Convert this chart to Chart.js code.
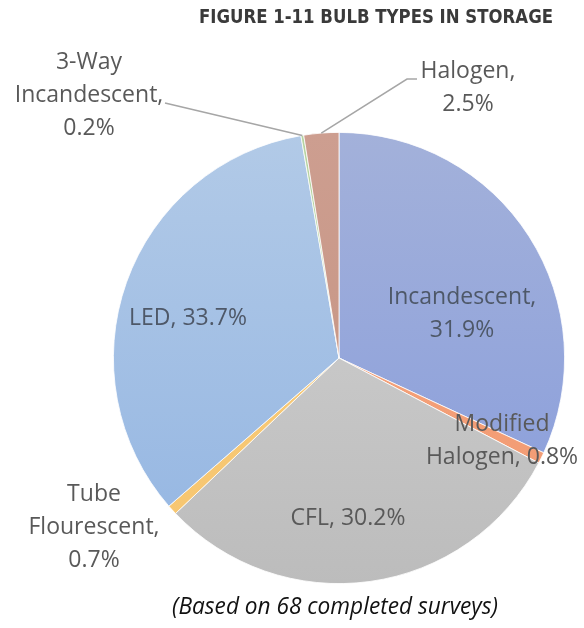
<!DOCTYPE html>
<html>
<head>
<meta charset="utf-8">
<script src="https://cdn.jsdelivr.net/npm/chart.js@4"></script>
<style>
  html, body { margin: 0; padding: 0; background: #fff; }
  #wrap { width: 584px; height: 628px; position: relative; }
</style>
</head>
<body>
<div id="wrap"><canvas id="pie"></canvas></div>
<script>
// data
const categories = ['Incandescent', 'Modified Halogen', 'CFL', 'Tube Flourescent', 'LED', '3-Way Incandescent', 'Halogen'];
const shares = [31.9, 0.8, 30.2, 0.7, 33.7, 0.2, 2.5];
const labelLines = [
  ['Incandescent,', '31.9%'],
  ['Modified', 'Halogen, 0.8%'],
  ['CFL, 30.2%'],
  ['Tube', 'Flourescent,', '0.7%'],
  ['LED, 33.7%'],
  ['3-Way', 'Incandescent,', '0.2%'],
  ['Halogen,', '2.5%']
];
const titleText = 'FIGURE 1-11 BULB TYPES IN STORAGE';
const noteText = '(Based on 68 completed surveys)';

// slice fills: top colour, bottom colour (Excel-style gradient)
const fillTop = ['#a3b1da', '#f4a57f', '#d3d3d3', '#f8cd7e', '#b2cae7', '#b7d4a2', '#cd9e90'];
const fillBottom = ['#879cdc', '#f29a72', '#bcbcbc', '#f6c56f', '#93b5e2', '#a9cb92', '#c4927f'];

// label placement relative to pie centre (px), leader line
const labelPos = [
  { dx: 123, dy: -44, color: '#4e5868' },
  { dx: 163, dy: 83, color: '#595959' },
  { dx: 9, dy: 160, color: '#595959' },
  { dx: -245, dy: 169, color: '#595959' },
  { dx: -151, dy: -40, color: '#4e5868' },
  { dx: -250, dy: -263, color: '#595959', leader: [[-174, -255]] },
  { dx: 129, dy: -270, color: '#595959', leader: [[68, -279], [78, -279]] }
];

const sliceFill = (ctx) => {
  const chart = ctx.chart;
  const area = chart.chartArea;
  if (!area) return fillTop[ctx.dataIndex];
  const g = chart.ctx.createLinearGradient(0, area.top, 0, area.bottom);
  g.addColorStop(0, fillTop[ctx.dataIndex]);
  g.addColorStop(1, fillBottom[ctx.dataIndex]);
  return g;
};

const labelPlugin = {
  id: 'sliceLabels',
  afterDatasetsDraw(chart) {
    const c = chart.ctx;
    const arcs = chart.getDatasetMeta(0).data;
    c.save();
    arcs.forEach((arc, i) => {
      const cx = arc.x, cy = arc.y;
      const p = labelPos[i];
      if (p.leader) {
        const mid = (arc.startAngle + arc.endAngle) / 2;
        c.beginPath();
        c.moveTo(cx + Math.cos(mid) * arc.outerRadius, cy + Math.sin(mid) * arc.outerRadius);
        p.leader.forEach(pt => c.lineTo(cx + pt[0], cy + pt[1]));
        c.strokeStyle = '#a6a6a6';
        c.lineWidth = 1.5;
        c.stroke();
      }
      const lines = labelLines[i];
      const lh = 33;
      c.font = '23px "Open Sans"';
      c.fillStyle = p.color;
      c.textAlign = 'center';
      c.textBaseline = 'middle';
      const y0 = cy + p.dy - (lines.length - 1) * lh / 2;
      lines.forEach((t, k) => c.fillText(t, cx + p.dx, y0 + k * lh));
    });
    c.restore();
  },
  afterDraw(chart) {
    const c = chart.ctx;
    c.save();
    c.fillStyle = '#3a3a3a';
    c.font = 'bold 20px "DejaVu Sans Condensed", "DejaVu Sans"';
    c.textAlign = 'right';
    c.textBaseline = 'middle';
    c.fillText(titleText, 553, 18, 354);
    c.fillStyle = '#111111';
    c.font = 'italic 23px "Open Sans"';
    c.textAlign = 'center';
    c.fillText(noteText, 335, 607, 326);
    c.restore();
  }
};

new Chart(document.getElementById('pie').getContext('2d'), {
  type: 'pie',
  data: {
    labels: categories,
    datasets: [{
      data: shares,
      backgroundColor: sliceFill,
      borderColor: '#ffffff',
      borderWidth: 0.8
    }]
  },
  options: {
    responsive: true,
    maintainAspectRatio: false,
    animation: false,
    layout: { padding: { top: 132, bottom: 44, left: 113, right: 19 } },
    plugins: {
      legend: { display: false },
      tooltip: { enabled: false }
    }
  },
  plugins: [labelPlugin]
});
</script>
</body>
</html>
